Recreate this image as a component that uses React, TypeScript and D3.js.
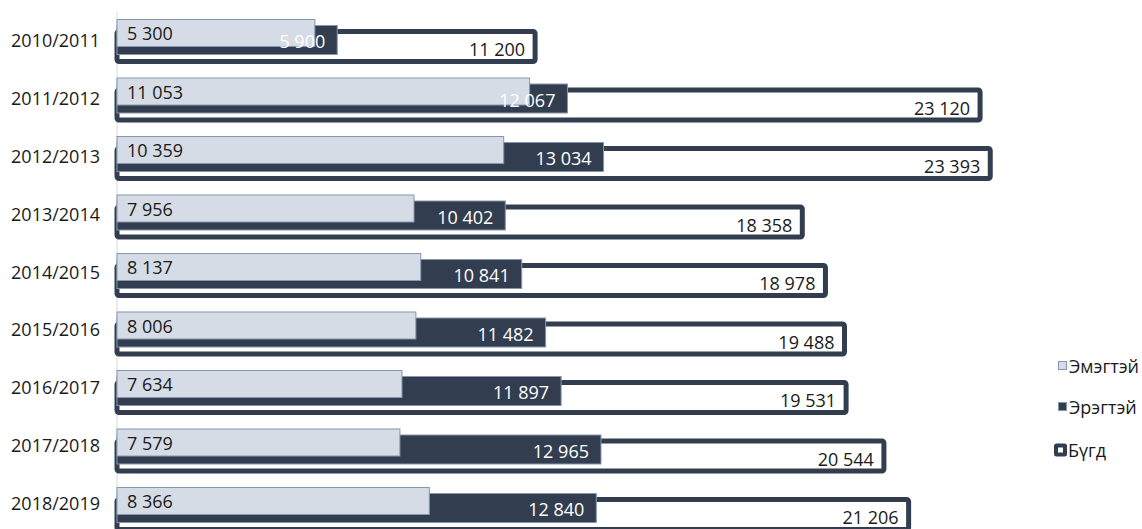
import React from "react";
import * as d3 from "d3";

const categories = ["2010/2011", "2011/2012", "2012/2013", "2013/2014", "2014/2015", "2015/2016", "2016/2017", "2017/2018", "2018/2019"];
const female = [5300, 11053, 10359, 7956, 8137, 8006, 7634, 7579, 8366];
const male = [5900, 12067, 13034, 10402, 10841, 11482, 11897, 12965, 12840];
const total = [11200, 23120, 23393, 18358, 18978, 19488, 19531, 20544, 21206];
const legendLabels = ["Эмэгтэй", "Эрэгтэй", "Бүгд"];

const W = 1142;
const H = 529;
const DARK = "#323e4f";
const LIGHT = "#d6dce5";
const EDGE = "#8497b0";
const FONT = "'Open Sans', sans-serif";
const FS = 18;

const fmt = (v: number) => d3.format(",")(v).replace(/,/g, " ");

export default function App() {
  const x = d3.scaleLinear().domain([0, 27000]).range([117, 117 + 27000 * 0.03733]);
  const y = d3.scaleBand<string>().domain(categories).range([19, 19 + 58.5 * categories.length]).paddingInner(0).paddingOuter(0);
  const yl = d3.scalePoint<string>().domain(categories).range([40, 503]);

  return (
    <svg width={W} height={H} style={{ position: "absolute", left: 0, top: 0, background: "#fff" }} fontFamily={FONT}>
      <line x1={x(0)} x2={x(0)} y1={12} y2={H} stroke="#d9d9d9" strokeWidth={1} />
      {categories.map((c, i) => {
        const y0 = y(c)!;
        return (
          <g key={c}>
            <text x={100} y={yl(c)!} textAnchor="end" dominantBaseline="central" fontSize={FS} fill="#1a1a1a">{c}</text>
            <rect x={x(0)} y={y0 + 12.5} width={x(total[i]) - x(0)} height={30} fill="#fff" stroke={DARK} strokeWidth={5} rx={2} />
            <rect x={x(0)} y={y0 + 6.5} width={x(male[i]) - x(0)} height={29} fill={DARK} stroke={EDGE} strokeWidth={1} />
            <rect x={x(0)} y={y0 + 0.5} width={x(female[i]) - x(0)} height={27} fill={LIGHT} stroke={EDGE} strokeWidth={1} />
            <text x={x(0) + 10} y={y0 + 14} dominantBaseline="central" fontSize={FS} fill="#1a1a1a">{fmt(female[i])}</text>
            <text x={x(male[i]) - 12} y={y0 + 22} textAnchor="end" dominantBaseline="central" fontSize={FS} fill="#fff">{fmt(male[i])}</text>
            <text x={x(total[i]) - 10} y={y0 + 30} textAnchor="end" dominantBaseline="central" fontSize={FS} fill="#1a1a1a">{fmt(total[i])}</text>
          </g>
        );
      })}
      <g>
        <rect x={1058.5} y={361.5} width={8} height={8} fill={LIGHT} stroke={EDGE} strokeWidth={1} />
        <text x={1069} y={366} dominantBaseline="central" fontSize={FS} fill="#1a1a1a">{legendLabels[0]}</text>
        <rect x={1058.5} y={402.5} width={8} height={8} fill={DARK} stroke={EDGE} strokeWidth={1} />
        <text x={1069} y={407} dominantBaseline="central" fontSize={FS} fill="#1a1a1a">{legendLabels[1]}</text>
        <rect x={1054} y={443.5} width={13} height={13} fill={DARK} rx={2.5} />
        <rect x={1058} y={447.5} width={5} height={5} fill="#fff" />
        <text x={1068} y={450} dominantBaseline="central" fontSize={FS} fill="#1a1a1a">{legendLabels[2]}</text>
      </g>
    </svg>
  );
}
